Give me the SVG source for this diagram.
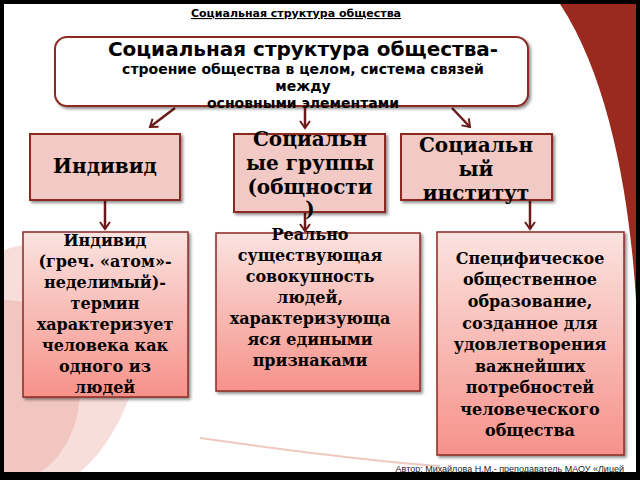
<svg xmlns="http://www.w3.org/2000/svg" width="640" height="480" viewBox="0 0 640 480">
<defs>
<linearGradient id="g1" x1="0" y1="0" x2="0" y2="1"><stop offset="0" stop-color="#fbe3e0"/><stop offset="1" stop-color="#f6928a"/></linearGradient>
<filter id="sh" x="-10%" y="-10%" width="130%" height="130%"><feDropShadow dx="2" dy="2" stdDeviation="1.5" flood-color="#000" flood-opacity="0.45"/></filter>
<marker id="ar" markerWidth="12" markerHeight="12" refX="8" refY="6" orient="auto" markerUnits="userSpaceOnUse"><path d="M1,1 L8,6 L1,11" fill="none" stroke="#6b1a1a" stroke-width="2"/></marker>
<style>
.b{fill:#f2c9c4;stroke:#8c2a22;stroke-width:2;filter:url(#sh)}
.g{fill:url(#g1);stroke:#8c2a22;stroke-width:1.5;filter:url(#sh)}
.s{font-family:"DejaVu Serif",serif;font-weight:bold;fill:#000;text-anchor:middle}
.d{font-family:"DejaVu Sans",sans-serif;font-weight:bold;fill:#000;text-anchor:middle}
.c{stroke:#6b1a1a;stroke-width:2.5;fill:none;marker-end:url(#ar)}
</style>
</defs>
<rect width="640" height="480" fill="#000"/>
<rect x="4" y="4" width="632" height="468" fill="#fff"/>
<path d="M560,4 L636,4 L636,300 C630,200 610,80 560,4 Z" fill="#9b2a1e"/>
<path d="M4,250 C60,230 120,260 140,320 C150,360 120,440 80,472 L4,472 Z" fill="#f6d6d2" opacity="0.8"/>
<path d="M4,300 C50,300 80,340 80,390 C80,430 60,460 40,472 L4,472 Z" fill="#f0bcb5" opacity="0.7"/>
<path d="M200,438 C300,452 380,462 440,466" stroke="#f0c8c2" stroke-width="2" fill="none"/>
<text x="296" y="17" font-family="DejaVu Sans,sans-serif" font-weight="bold" font-size="11" text-anchor="middle" text-decoration="underline">Социальная структура общества</text>
<g id="connectors">
<line class="c" x1="175" y1="108" x2="150" y2="127"/>
<line class="c" x1="305" y1="108" x2="305" y2="128"/>
<line class="c" x1="452" y1="108" x2="470" y2="127"/>
<line class="c" x1="105" y1="200" x2="105" y2="229"/>
<line class="c" x1="305" y1="212" x2="305" y2="231"/>
<line class="c" x1="530" y1="200" x2="530" y2="229"/>
</g>
<g id="top">
<rect x="55" y="37" width="473" height="69" rx="12" fill="#fff" stroke="#8c2a22" stroke-width="2" filter="url(#sh)"/>
<text class="d" x="303" y="56" font-size="20">Социальная  структура общества-</text>
<text class="d" x="303" y="74" font-size="14">строение общества в целом, система связей</text>
<text class="d" x="303" y="91" font-size="14">между</text>
<text class="d" x="303" y="108" font-size="14">основными элементами</text>
</g>
<g id="individ"><rect class="b" x="30" y="134" width="150" height="66"/>
<text class="s" x="105" y="173" font-size="20">Индивид</text></g>
<g id="groups"><rect class="b" x="234" y="134" width="151" height="78"/>
<text class="s" x="310" y="146" font-size="20">Социальн</text>
<text class="s" x="310" y="170" font-size="20">ые группы</text>
<text class="s" x="310" y="194" font-size="20">(общности</text>
<text class="s" x="310" y="216" font-size="20">)</text></g>
<g id="inst"><rect class="b" x="401" y="134" width="151" height="66"/>
<text class="s" x="476" y="152" font-size="20">Социальн</text>
<text class="s" x="476" y="176" font-size="20">ый</text>
<text class="s" x="476" y="200" font-size="20">институт</text></g>
<g id="d1"><rect class="g" x="23" y="232" width="165" height="165"/>
<g class="s" font-size="16"><text x="105" y="246">Индивид</text><text x="105" y="267">(греч. «атом»-</text><text x="105" y="288">неделимый)-</text><text x="105" y="309">термин</text><text x="105" y="330">характеризует</text><text x="105" y="351">человека как</text><text x="105" y="372">одного из</text><text x="105" y="393">людей</text></g></g>
<g id="d2"><rect class="g" x="216" y="233" width="204" height="158"/>
<g class="s" font-size="16"><text x="310" y="240">Реально</text><text x="310" y="261">существующая</text><text x="310" y="282">совокупность</text><text x="310" y="303">людей,</text><text x="310" y="324">характеризующа</text><text x="310" y="345">яся едиными</text><text x="310" y="366">признаками</text></g></g>
<g id="d3"><rect class="g" x="437" y="232" width="187" height="223"/>
<g class="s" font-size="16"><text x="530" y="264">Специфическое</text><text x="530" y="285">общественное</text><text x="530" y="307">образование,</text><text x="530" y="329">созданное для</text><text x="530" y="350">удовлетворения</text><text x="530" y="372">важнейших</text><text x="530" y="393">потребностей</text><text x="530" y="415">человеческого</text><text x="530" y="436">общества</text></g></g>
<text x="624" y="472" font-family="Liberation Sans,sans-serif" font-size="9" text-anchor="end" fill="#222">Автор: Михайлова Н.М.- преподаватель МАОУ «Лицей</text>
</svg>
